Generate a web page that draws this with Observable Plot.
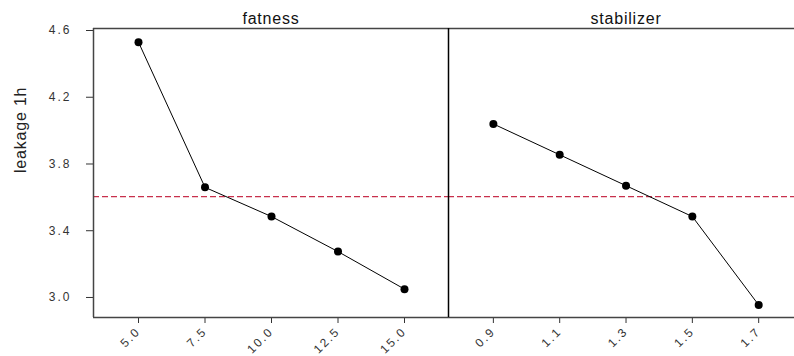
<!DOCTYPE html>
<html><head><meta charset="utf-8">
<script src="https://cdn.jsdelivr.net/npm/d3@7"></script>
<script src="https://cdn.jsdelivr.net/npm/@observablehq/plot@0.6"></script>
<style>
body{margin:0;background:#fff;overflow:hidden}
#row{display:flex;width:794px;height:356px}
#row svg{overflow:visible;letter-spacing:2px}
#row svg g[aria-label="text"] text{letter-spacing:0.8px}
</style>
</head><body><div id="row"></div>
<script>
const fatnessLevels = [5.0, 7.5, 10.0, 12.5, 15.0];
const fatnessMeans = [4.53, 3.66, 3.485, 3.275, 3.05];
const stabilizerLevels = [0.9, 1.1, 1.3, 1.5, 1.7];
const stabilizerMeans = [4.04, 3.855, 3.67, 3.485, 2.955];
const grandMean = [3.605];
const yTicks = [3.0, 3.4, 3.8, 4.2, 4.6];
const panelTitles = ["fatness", "stabilizer"];
const yLabel = "leakage 1h";

const fatData = fatnessLevels.map((x, i) => ({x, y: fatnessMeans[i]}));
const stabData = stabilizerLevels.map((x, i) => ({x, y: stabilizerMeans[i]}));
const yDomain = [2.88, 4.612];
const fmt = d3.format(".1f");
const baseStyle = {fontFamily: "'Liberation Sans', Arial, sans-serif", fontSize: "12px", color: "#333", background: "transparent", overflow: "visible"};

const left = Plot.plot({
  width: 448, height: 356,
  marginLeft: 93, marginRight: 0, marginTop: 28, marginBottom: 39,
  style: baseStyle,
  x: {domain: [3.308, 16.654], ticks: fatnessLevels, tickFormat: fmt, tickRotate: -45, tickSize: 6, label: null},
  y: {domain: yDomain, ticks: yTicks, tickFormat: fmt, tickSize: 7, tickPadding: 15, label: null},
  marks: [
    Plot.ruleY(grandMean, {stroke: "#c8304c", strokeWidth: 1.2, strokeDasharray: "6,3"}),
    Plot.ruleX([3.308], {stroke: "#444", strokeWidth: 1.5}),
    Plot.ruleY([yDomain[0]], {stroke: "#444", strokeWidth: 1.5}),
    Plot.ruleY([yDomain[1]], {stroke: "#444", strokeWidth: 1.5}),
    Plot.line(fatData, {x: "x", y: "y", stroke: "black", strokeWidth: 1}),
    Plot.dot(fatData, {x: "x", y: "y", r: 4, fill: "black", stroke: null}),
    Plot.text([panelTitles[0]], {frameAnchor: "top", dy: -5, lineAnchor: "bottom", fontSize: 16, fill: "#111"}),
    Plot.text([yLabel], {frameAnchor: "left", dx: -73, rotate: -90, fontSize: 16, fill: "#222"})
  ]
});

const right = Plot.plot({
  width: 346, height: 356,
  marginLeft: 0, marginRight: 0, marginTop: 28, marginBottom: 39,
  style: baseStyle,
  x: {domain: [0.7647, 1.808], ticks: stabilizerLevels, tickFormat: fmt, tickRotate: -45, tickSize: 6, label: null},
  y: {domain: yDomain, axis: null},
  marks: [
    Plot.ruleY(grandMean, {stroke: "#c8304c", strokeWidth: 1.2, strokeDasharray: "6,3"}),
    Plot.ruleY([yDomain[0]], {stroke: "#444", strokeWidth: 1.5}),
    Plot.ruleY([yDomain[1]], {stroke: "#444", strokeWidth: 1.5}),
    Plot.ruleX([0.7647], {stroke: "black", strokeWidth: 1.5}),
    Plot.line(stabData, {x: "x", y: "y", stroke: "black", strokeWidth: 1}),
    Plot.dot(stabData, {x: "x", y: "y", r: 4, fill: "black", stroke: null}),
    Plot.text([panelTitles[1]], {frameAnchor: "top", dy: -5, dx: 4.5, lineAnchor: "bottom", fontSize: 16, fill: "#111"})
  ]
});

document.getElementById("row").append(left, right);
</script>
</body></html>
